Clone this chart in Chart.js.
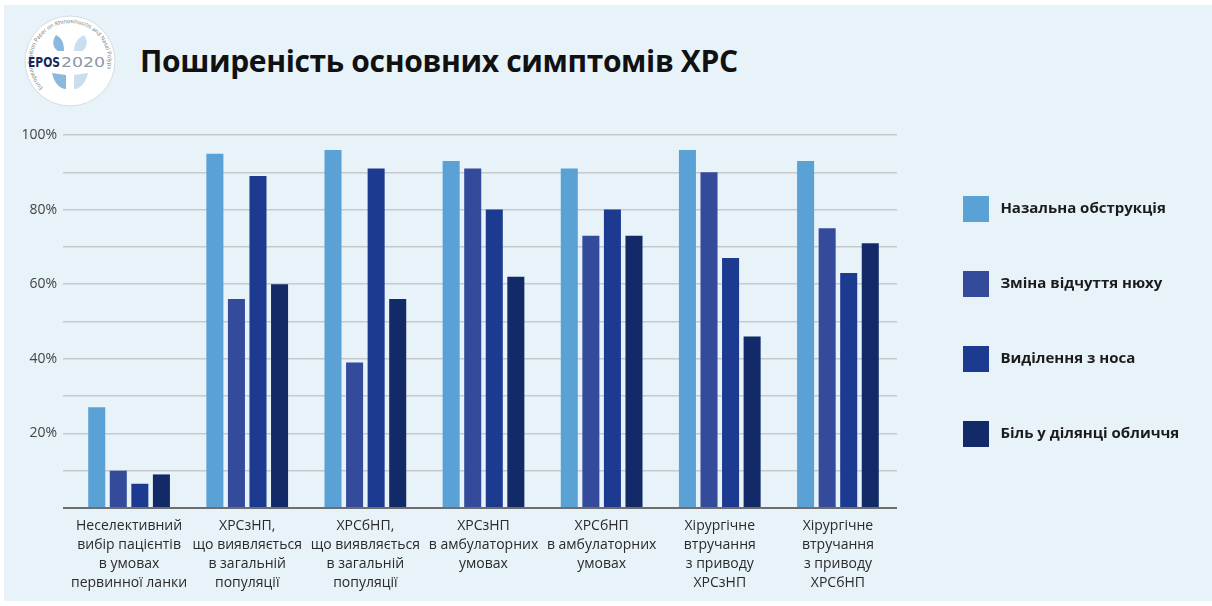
<!DOCTYPE html>
<html lang="uk">
<head>
<meta charset="utf-8">
<title>Поширеність основних симптомів ХРС</title>
<script src="https://cdn.jsdelivr.net/npm/chart.js@4.4.1/dist/chart.umd.min.js"></script>
<style>
  html, body { margin: 0; padding: 0; background: #fff; }
  body { width: 1212px; height: 606px; position: relative; overflow: hidden; font-family: 'Open Sans', sans-serif; }
  #panel { position: absolute; left: 4px; top: 5px; width: 1208px; height: 596px; background: #e7f2f9; }
  #logo { position: absolute; left: 22px; top: 13px; }
  h1 { position: absolute; left: 140px; top: 44px; margin: 0; font-size: 30px; font-weight: 700; color: #111; letter-spacing: -0.35px; line-height: 1.1; white-space: nowrap; }
  #wrap { position: absolute; left: 0; top: 100px; width: 1212px; height: 500px; }
</style>
</head>
<body>
<div id="panel"></div>

<svg id="logo" width="96" height="96" viewBox="0 0 96 96">
  <defs>
    <path id="ring" d="M 21.1 74.9 A 38 38 0 1 1 74.9 74.9"/>
  </defs>
  <circle cx="48" cy="48" r="45" fill="#fff" stroke="#d6dde2" stroke-width="1"/>
  <!-- sinus shapes -->
  <path d="M34 22 C30 28 30 34 36 38 L42 38 C42 30 40 25 34 22 Z" fill="#8db8de"/>
  <path d="M62 22 C66 28 66 34 60 38 L52 38 C52 30 56 25 62 22 Z" fill="#c9dff0"/>
  <path d="M30 60 C32 70 38 76 44 76 L44 62 Z" fill="#8db8de"/>
  <path d="M66 60 C64 70 58 76 52 76 L52 62 Z" fill="#c9dff0"/>
  <text font-family="'Open Sans', sans-serif" font-size="5.6" fill="#6f7478">
    <textPath href="#ring">European Position Paper on Rhinosinusitis and Nasal Polyps</textPath>
  </text>
  <text x="6" y="54" font-family="'DejaVu Sans Condensed', sans-serif" font-weight="bold" font-size="14" fill="#17275e" textLength="32" lengthAdjust="spacingAndGlyphs">EPOS</text>
  <text x="39" y="54" font-family="'DejaVu Sans Condensed', sans-serif" font-size="14" fill="#8a98a8" textLength="44" lengthAdjust="spacingAndGlyphs">2020</text>
</svg>

<h1>Поширеність основних симптомів ХРС</h1>

<div id="wrap"><canvas id="chart"></canvas></div>

<script>
const categories = [
  ['Неселективний', 'вибір пацієнтів', 'в умовах', 'первинної ланки'],
  ['ХРСзНП,', 'що виявляється', 'в загальній', 'популяції'],
  ['ХРСбНП,', 'що виявляється', 'в загальній', 'популяції'],
  ['ХРСзНП', 'в амбулаторних', 'умовах'],
  ['ХРСбНП', 'в амбулаторних', 'умовах'],
  ['Хірургічне', 'втручання', 'з приводу', 'ХРСзНП'],
  ['Хірургічне', 'втручання', 'з приводу', 'ХРСбНП']
];

const seriesNames = ['Назальна обструкція', 'Зміна відчуття нюху', 'Виділення з носа', 'Біль у ділянці обличчя'];
const seriesColors = ['#5aa2d5', '#344b9b', '#1c3a90', '#132a68'];

// percent of patients
const nasalObstruction = [27, 95, 96, 93, 91, 96, 93];
const smellChange      = [10, 56, 39, 91, 73, 90, 75];
const noseDischarge    = [6.5, 89, 91, 80, 80, 67, 63];
const facialPain       = [9, 60, 56, 62, 73, 46, 71];

const yLabelled = [20, 40, 60, 80, 100];

const seriesValues = [nasalObstruction, smellChange, noseDischarge, facialPain];

// legend geometry
const legendFont = { family: "'Open Sans', sans-serif", size: 15, weight: 'bold' };
const legendBox = 26;
const legendPad = 49;
const legendShift = 17;   // extra space between plot and legend
const plotRight = 897;

// the legend width follows its longest label, so size the right padding from it
const mctx = document.createElement('canvas').getContext('2d');
mctx.font = `bold ${legendFont.size}px ${legendFont.family}`;
const longest = Math.max(...seriesNames.map(n => mctx.measureText(' ' + n).width));
const legendWidth = legendPad + legendBox + legendFont.size / 2 + longest + 10;
const padRight = Math.max(legendShift + 2, 1212 - plotRight - legendWidth);

const shiftLegend = {
  id: 'shiftLegend',
  afterLayout(ch) {
    ch.legend.left += legendShift;
    ch.legend.right += legendShift;
  }
};

const chart = new Chart(document.getElementById('chart'), {
  type: 'bar',
  data: {
    labels: categories,
    datasets: seriesValues.map((vals, i) => ({
      label: seriesNames[i],
      data: vals,
      backgroundColor: seriesColors[i],
      borderWidth: 0,
      categoryPercentage: 0.73,
      barPercentage: 0.79
    }))
  },
  options: {
    responsive: true,
    maintainAspectRatio: false,
    animation: false,
    layout: { padding: { top: 35, right: padRight, bottom: 0, left: 0 } },
    scales: {
      x: {
        grid: { display: false, drawTicks: false },
        border: { display: false },
        ticks: {
          color: '#2a2a2a',
          padding: 9,
          maxRotation: 0,
          autoSkip: false,
          font: { family: "'Open Sans', sans-serif", size: 14, lineHeight: '19px' }
        },
        afterFit: (s) => { s.height = 92; }
      },
      y: {
        min: 0,
        max: 100,
        grid: {
          color: (c) => c.tick && c.tick.value === 0 ? '#6e6e6e' : '#c6cacd',
          lineWidth: (c) => c.tick && c.tick.value === 0 ? 2 : 1.5,
          tickLength: 7
        },
        border: { display: false },
        ticks: {
          stepSize: 10,
          padding: 6,
          color: '#444',
          font: { family: "'Open Sans', sans-serif", size: 14 },
          callback: (v) => yLabelled.includes(v) ? v + '%' : ''
        },
        afterFit: (s) => { s.width = 70; }
      }
    },
    plugins: {
      legend: {
        position: 'right',
        fullSize: false,
        labels: {
          boxWidth: legendBox,
          boxHeight: legendBox,
          padding: legendPad,
          color: '#1b1b1b',
          font: legendFont,
          generateLabels: (ch) => Chart.defaults.plugins.legend.labels.generateLabels(ch)
            .map(item => Object.assign(item, { text: ' ' + item.text, lineWidth: 0 }))
        }
      },
      tooltip: { enabled: false }
    }
  },
  plugins: [shiftLegend]
});
</script>
</body>
</html>
